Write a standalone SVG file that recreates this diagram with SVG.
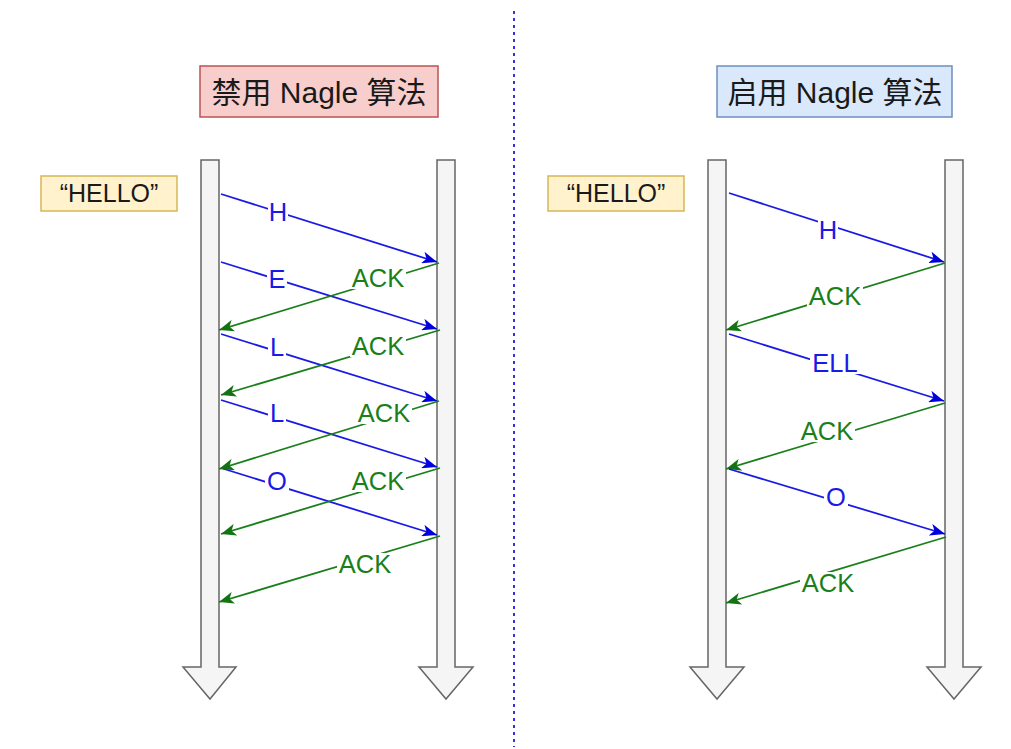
<svg xmlns="http://www.w3.org/2000/svg" width="1011" height="749" viewBox="0 0 1011 749">
<style>
.life{fill:#f5f5f5;stroke:#666666;stroke-width:1.5}
.title{font-family:"Liberation Sans","Noto Sans CJK SC",sans-serif;font-size:30px;fill:#1a1a1a;text-anchor:middle}
.hello{font-family:"Liberation Sans",Arial,sans-serif;font-size:25px;fill:#1a1a1a;text-anchor:middle}
.lbl{font-family:"Liberation Sans",Arial,sans-serif;font-size:25.5px;text-anchor:middle}
.b{stroke:#1a1ae6;stroke-width:1.8;fill:none;marker-end:url(#ab)}
.g{stroke:#1a7f1a;stroke-width:1.8;fill:none;marker-end:url(#ag)}
.bt{fill:#1a1ae6}
.gt{fill:#1a7f1a}
.bg{fill:#ffffff}
</style>
<defs>
<marker id="ab" markerUnits="userSpaceOnUse" markerWidth="16" markerHeight="12" refX="15" refY="6" orient="auto" viewBox="0 0 16 12">
<path d="M0,0 L15,6 L0,12 L4,6 Z" fill="#0000dd"/>
</marker>
<marker id="ag" markerUnits="userSpaceOnUse" markerWidth="16" markerHeight="12" refX="15" refY="6" orient="auto" viewBox="0 0 16 12">
<path d="M0,0 L15,6 L0,12 L4,6 Z" fill="#137313"/>
</marker>
</defs>
<rect width="1011" height="749" fill="#ffffff"/>
<line id="divider" x1="514" y1="11" x2="514" y2="747" stroke="#3333dd" stroke-width="2" stroke-dasharray="3 4"/>

<g id="title-left">
<rect x="200" y="66" width="238" height="51" fill="#f8cecc" stroke="#b85450" stroke-width="1.5"/>
<text class="title" x="319" y="103">禁用 Nagle 算法</text>
</g>
<g id="title-right">
<rect x="717" y="66" width="235" height="51" fill="#dae8fc" stroke="#6c8ebf" stroke-width="1.5"/>
<text class="title" x="835" y="103">启用 Nagle 算法</text>
</g>
<g id="hello-left">
<rect x="41" y="176" width="136" height="35" fill="#fff2cc" stroke="#d6b656" stroke-width="1.5"/>
<text class="hello" x="109" y="202">“HELLO”</text>
</g>
<g id="hello-right">
<rect x="548" y="176" width="136" height="35" fill="#fff2cc" stroke="#d6b656" stroke-width="1.5"/>
<text class="hello" x="616" y="202">“HELLO”</text>
</g>

<g id="life-l1"><polygon class="life" points="201,160 219,160 219,667 236,667 210,699 183,667 201,667"/></g>
<g id="life-l2"><polygon class="life" points="437,160 455,160 455,667 473,667 446,699 419,667 437,667"/></g>
<g id="life-r1"><polygon class="life" points="708,160 726,160 726,667 744,667 717,699 690,667 708,667"/></g>
<g id="life-r2"><polygon class="life" points="945,160 963,160 963,667 981,667 954,699 927,667 945,667"/></g>

<g id="connectors">
<line class="b" x1="221" y1="194" x2="437" y2="262"/>
<line class="b" x1="221" y1="262" x2="437" y2="329"/>
<line class="b" x1="221" y1="334" x2="437" y2="401"/>
<line class="b" x1="221" y1="400" x2="437" y2="467"/>
<line class="b" x1="221" y1="468" x2="437" y2="535"/>
<line class="g" x1="439" y1="263" x2="219" y2="330"/>
<line class="g" x1="440" y1="330" x2="221" y2="395"/>
<line class="g" x1="439" y1="401" x2="219" y2="469"/>
<line class="g" x1="440" y1="468" x2="221" y2="534"/>
<line class="g" x1="440" y1="536" x2="219" y2="602"/>

<line class="b" x1="729" y1="193" x2="944" y2="262"/>
<line class="g" x1="945" y1="263" x2="726" y2="330"/>
<line class="b" x1="729" y1="334" x2="944" y2="401"/>
<line class="g" x1="945" y1="403" x2="726" y2="469"/>
<line class="b" x1="729" y1="469" x2="945" y2="534"/>
<line class="g" x1="946" y1="537" x2="726" y2="603"/>

<g id="labels">
<rect class="bg" x="268" y="201" width="20" height="22"/><text class="lbl bt" x="278" y="221">H</text>
<rect class="bg" x="267" y="268" width="20" height="22"/><text class="lbl bt" x="277" y="288">E</text>
<rect class="bg" x="268" y="336" width="18" height="22"/><text class="lbl bt" x="277" y="356">L</text>
<rect class="bg" x="268" y="402" width="18" height="22"/><text class="lbl bt" x="277" y="422">L</text>
<rect class="bg" x="265" y="470" width="24" height="22"/><text class="lbl bt" x="277" y="490">O</text>
<rect class="bg" x="350" y="267" width="56" height="22"/><text class="lbl gt" x="378" y="287">ACK</text>
<rect class="bg" x="350" y="335" width="56" height="22"/><text class="lbl gt" x="378" y="355">ACK</text>
<rect class="bg" x="356" y="402" width="56" height="22"/><text class="lbl gt" x="384" y="422">ACK</text>
<rect class="bg" x="350" y="470" width="56" height="22"/><text class="lbl gt" x="378" y="490">ACK</text>
<rect class="bg" x="337" y="553" width="56" height="22"/><text class="lbl gt" x="365" y="573">ACK</text>

<rect class="bg" x="818" y="219" width="20" height="22"/><text class="lbl bt" x="828" y="239">H</text>
<rect class="bg" x="807" y="285" width="56" height="22"/><text class="lbl gt" x="835" y="305">ACK</text>
<rect class="bg" x="810" y="352" width="50" height="22"/><text class="lbl bt" x="835" y="372">ELL</text>
<rect class="bg" x="799" y="420" width="56" height="22"/><text class="lbl gt" x="827" y="440">ACK</text>
<rect class="bg" x="824" y="486" width="24" height="22"/><text class="lbl bt" x="836" y="506">O</text>
<rect class="bg" x="800" y="572" width="56" height="22"/><text class="lbl gt" x="828" y="592">ACK</text>
</g>
</g>
</svg>
